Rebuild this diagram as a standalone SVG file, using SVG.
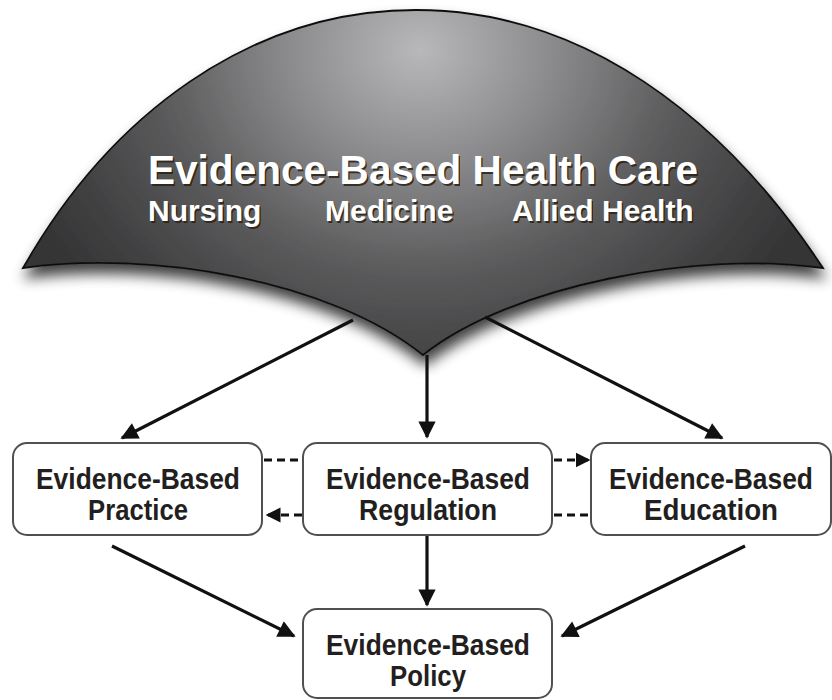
<svg xmlns="http://www.w3.org/2000/svg" width="832" height="700" viewBox="0 0 832 700">
<defs>
  <radialGradient id="domeGrad" gradientUnits="userSpaceOnUse" cx="420" cy="50" r="430" gradientTransform="translate(420 50) scale(1 0.85) translate(-420 -50)">
    <stop offset="0" stop-color="#b8b8ba"/>
    <stop offset="0.3" stop-color="#8c8c8e"/>
    <stop offset="0.6" stop-color="#5c5c5d"/>
    <stop offset="0.85" stop-color="#424243"/>
    <stop offset="1" stop-color="#353536"/>
  </radialGradient>
  <filter id="shadow" x="-10%" y="-10%" width="120%" height="140%">
    <feGaussianBlur in="SourceAlpha" stdDeviation="7"/>
    <feOffset dx="2" dy="10" result="b"/>
    <feComponentTransfer><feFuncA type="linear" slope="0.75"/></feComponentTransfer>
    <feMerge><feMergeNode/><feMergeNode in="SourceGraphic"/></feMerge>
  </filter>
  <marker id="arr" viewBox="0 0 10 10" refX="9" refY="5" markerWidth="5.8" markerHeight="5.4" orient="auto" markerUnits="strokeWidth">
    <path d="M0,0 L10,5 L0,10 Z" fill="#111"/>
  </marker>
  <marker id="arrS" viewBox="0 0 10 10" refX="9" refY="5" markerWidth="5" markerHeight="5.5" orient="auto" markerUnits="strokeWidth">
    <path d="M0,0 L10,5 L0,10 Z" fill="#111"/>
  </marker>
</defs>
<style>
  .title { font-family: "Liberation Sans", Arial, sans-serif; font-weight: bold; fill: #ffffff; }
  .tshadow { font-family: "Liberation Sans", Arial, sans-serif; font-weight: bold; fill: #2a2218; opacity: 0.85; }
  .box { fill: #ffffff; stroke: #505050; stroke-width: 2; }
  .label { font-family: "Liberation Sans", Arial, sans-serif; font-weight: bold; font-size: 29px; fill: #231f20; text-anchor: middle; }
  .conn { stroke: #111; stroke-width: 3.2; fill: none; }
  .dash { stroke: #111; stroke-width: 3; fill: none; stroke-dasharray: 8 5; }
</style>

<g id="dome">
  <path d="M 23,268 C 110,115 250,10 416,10 C 582,10 722,115 823,268 C 700,250 510,285 423,355 C 330,280 150,250 23,268 Z" fill="url(#domeGrad)" stroke="#111" stroke-width="1.8" filter="url(#shadow)"/>
  <text class="tshadow" x="149.5" y="185.5" font-size="40" textLength="550" lengthAdjust="spacingAndGlyphs">Evidence-Based Health Care</text>
  <text class="title" x="148" y="184" font-size="40" textLength="550" lengthAdjust="spacingAndGlyphs">Evidence-Based Health Care</text>
  <text class="tshadow" x="149.5" y="222.5" font-size="30">Nursing</text>
  <text class="title" x="148" y="221" font-size="30">Nursing</text>
  <text class="tshadow" x="326.5" y="222.5" font-size="30">Medicine</text>
  <text class="title" x="325" y="221" font-size="30">Medicine</text>
  <text class="tshadow" x="513.5" y="222.5" font-size="30">Allied Health</text>
  <text class="title" x="512" y="221" font-size="30">Allied Health</text>
</g>

<g id="connectors">
  <line class="conn" x1="353" y1="320" x2="122" y2="438" marker-end="url(#arr)"/>
  <line class="conn" x1="427" y1="355" x2="427" y2="437" marker-end="url(#arr)"/>
  <line class="conn" x1="485" y1="317" x2="722" y2="438" marker-end="url(#arr)"/>
  <line class="conn" x1="112" y1="546" x2="294" y2="636" marker-end="url(#arr)"/>
  <line class="conn" x1="427" y1="535" x2="427" y2="605" marker-end="url(#arr)"/>
  <line class="conn" x1="745" y1="546" x2="562" y2="636" marker-end="url(#arr)"/>
  <line class="dash" x1="264" y1="460" x2="302" y2="460"/>
  <line class="dash" x1="554" y1="460" x2="589" y2="460" marker-end="url(#arrS)"/>
  <line class="dash" x1="302" y1="515" x2="267" y2="515" marker-end="url(#arrS)"/>
  <line class="dash" x1="554" y1="515" x2="591" y2="515"/>
</g>

<g id="practice">
  <rect class="box" x="13" y="443" width="249" height="92" rx="14"/>
  <text class="label" x="138" y="489" textLength="204" lengthAdjust="spacingAndGlyphs">Evidence-Based</text>
  <text class="label" x="138" y="520" textLength="100" lengthAdjust="spacingAndGlyphs">Practice</text>
</g>

<g id="regulation">
  <rect class="box" x="303" y="443" width="249" height="92" rx="14"/>
  <text class="label" x="428" y="489" textLength="204" lengthAdjust="spacingAndGlyphs">Evidence-Based</text>
  <text class="label" x="428" y="520" textLength="138" lengthAdjust="spacingAndGlyphs">Regulation</text>
</g>

<g id="education">
  <rect class="box" x="591" y="443" width="240" height="92" rx="14"/>
  <text class="label" x="711" y="489" textLength="204" lengthAdjust="spacingAndGlyphs">Evidence-Based</text>
  <text class="label" x="711" y="520" textLength="134" lengthAdjust="spacingAndGlyphs">Education</text>
</g>

<g id="policy">
  <rect class="box" x="303" y="609" width="249" height="89" rx="14"/>
  <text class="label" x="428" y="655" textLength="204" lengthAdjust="spacingAndGlyphs">Evidence-Based</text>
  <text class="label" x="428" y="686" textLength="76" lengthAdjust="spacingAndGlyphs">Policy</text>
</g>
</svg>
